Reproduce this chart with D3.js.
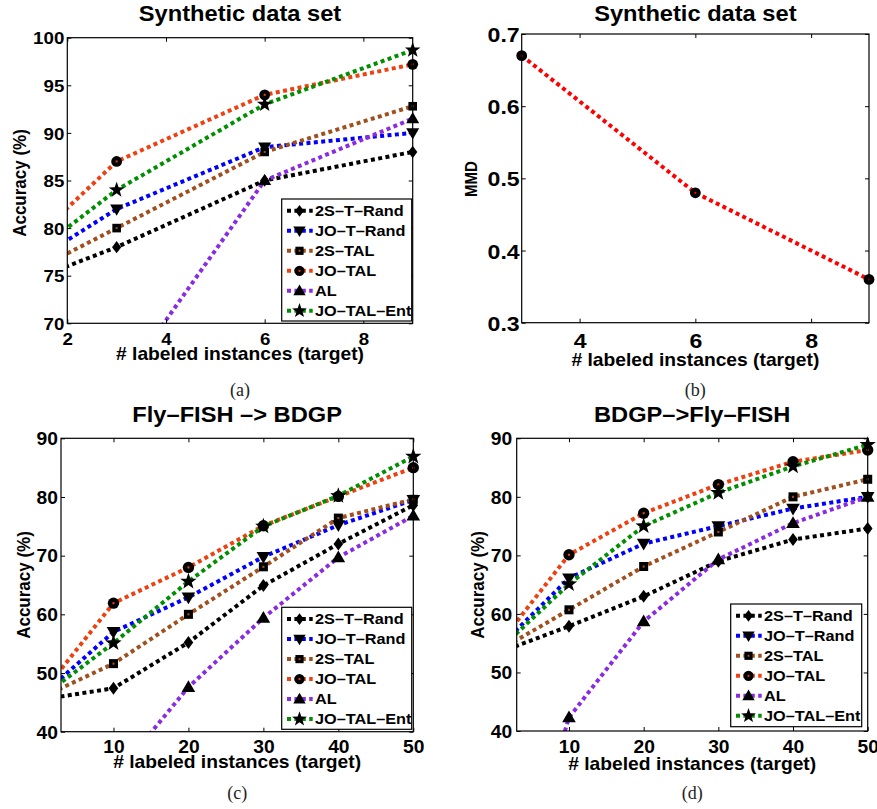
<!DOCTYPE html>
<html>
<head>
<meta charset="utf-8">
<script src="https://cdn.jsdelivr.net/npm/d3@7"></script>
<style>
  html, body { margin: 0; padding: 0; background: #fff; }
  svg { display: block; }
</style>
</head>
<body>
<svg id="chart" width="877" height="809"></svg>
<script>
// ---------------- DATA ----------------
const seriesNames = ["2S–T–Rand", "JO–T–Rand", "2S–TAL", "JO–TAL", "AL", "JO–TAL–Ent"];

// (a) Synthetic data set – accuracy (%)
const xSynthetic = [0, 3, 6, 9];
const accSynthetic = [
  [72.0, 78.0, 85.0, 88.0],   // 2S-T-Rand
  [72.2, 82.0, 88.5, 90.0],   // JO-T-Rand
  [72.0, 80.0, 88.0, 92.8],   // 2S-TAL
  [72.3, 87.0, 94.0, 97.2],   // JO-TAL
  [0,    63.0, 85.0, 91.5],   // AL
  [72.1, 84.0, 93.0, 98.7]    // JO-TAL-Ent
];
const xTicksA = [2, 4, 6, 8];
const yTicksA = [70, 75, 80, 85, 90, 95, 100];

// (b) Synthetic data set – MMD
const xMMD = [3, 6, 9];
const mmdSynthetic = [0.67, 0.48, 0.36];
const xTicksB = [4, 6, 8];
const yTicksB = [0.3, 0.4, 0.5, 0.6, 0.7];

// (c) Fly-FISH -> BDGP
const xReal = [0, 10, 20, 30, 40, 50];
const accFlyToBdgp = [
  [45.4, 47.4, 55.2, 64.9, 72.0, 78.6],
  [45.7, 57.0, 62.9, 69.8, 75.2, 79.5],
  [45.6, 51.6, 60.0, 68.1, 76.4, 79.6],
  [45.8, 61.9, 68.0, 75.1, 80.1, 85.0],
  [0,    32.1, 47.6, 59.4, 69.7, 76.8],
  [45.5, 55.1, 65.6, 75.0, 80.2, 86.9]
];
// (d) BDGP -> Fly-FISH
const accBdgpToFly = [
  [53.1, 57.9, 63.0, 69.0, 72.7, 74.6],
  [53.5, 66.1, 72.0, 75.0, 78.0, 80.0],
  [53.3, 60.7, 68.1, 74.0, 80.0, 83.0],
  [53.8, 70.1, 77.2, 82.1, 86.0, 88.0],
  [0,    42.3, 58.7, 69.3, 75.5, 80.0],
  [53.1, 65.1, 75.0, 80.7, 85.2, 88.9]
];
const xTicksReal = [10, 20, 30, 40, 50];
const yTicksReal = [40, 50, 60, 70, 80, 90];

// ---------------- STYLE ----------------
const colors = ["#000000", "#0000ff", "#a0501e", "#ee4010", "#8a2be2", "#008f00"];
const shapes = ["diamond", "down", "square", "circle", "up", "star"];
const SANS = "'Liberation Sans', Arial, Helvetica, sans-serif";
const STRETCH = 1.1;

const svg = d3.select("#chart");

function stext(g, x, y, str, size, anchor, rotate, opts = {}) {
  const t = g.append("text")
    .attr("transform", `translate(${x},${y}) scale(${STRETCH},1)` + (rotate ? " rotate(-90)" : ""))
    .attr("font-family", opts.family || SANS)
    .attr("font-weight", opts.weight || "bold")
    .attr("font-size", size)
    .attr("text-anchor", anchor)
    .attr("fill", opts.fill || "#000")
    .text(str);
  if (opts.dy) t.attr("dy", opts.dy);
  return t;
}

function starPath(R, r) {
  let p = "";
  for (let i = 0; i < 10; i++) {
    const a = -Math.PI / 2 + i * Math.PI / 5;
    const rad = i % 2 === 0 ? R : r;
    p += (i === 0 ? "M" : "L") + (rad * Math.cos(a)).toFixed(2) + "," + (rad * Math.sin(a)).toFixed(2);
  }
  return p + "Z";
}

function drawMarker(g, shape, cx, cy, color, scale = 1) {
  const m = g.append("g").attr("transform", `translate(${cx},${cy}) scale(${scale})`);
  switch (shape) {
    case "diamond":
      m.append("path").attr("d", "M0,-6.2L4.6,0L0,6.2L-4.6,0Z").attr("fill", "#000");
      break;
    case "down":
      m.append("path").attr("d", "M-6.5,-4.6L6.5,-4.6L0,6.6Z").attr("fill", "#000");
      break;
    case "up":
      m.append("path").attr("d", "M-6.5,4.6L6.5,4.6L0,-6.6Z").attr("fill", "#000");
      break;
    case "square":
      m.append("rect").attr("x", -4.3).attr("y", -4.3).attr("width", 8.6).attr("height", 8.6).attr("fill", "#000");
      m.append("rect").attr("x", -1).attr("y", -1).attr("width", 2).attr("height", 2).attr("fill", color);
      break;
    case "circle":
      m.append("circle").attr("r", 5.4).attr("fill", "#000");
      m.append("rect").attr("x", -1).attr("y", -1).attr("width", 2).attr("height", 2).attr("fill", color);
      break;
    case "star":
      m.append("path").attr("d", starPath(8.2, 3.3)).attr("fill", "#000");
      break;
  }
}

let clipId = 0;
function drawPanel(cfg) {
  const [L, T, R, B] = cfg.box;
  const g = svg.append("g");
  const x = d3.scaleLinear().domain(cfg.xDomain).range([L, R]);
  const y = d3.scaleLinear().domain(cfg.yDomain).range([B, T]);

  // white plot area
  g.append("rect").attr("x", L).attr("y", T).attr("width", R - L).attr("height", B - T).attr("fill", "#fff");

  const id = "clip" + (clipId++);
  g.append("clipPath").attr("id", id).append("rect")
    .attr("x", L).attr("y", T).attr("width", R - L).attr("height", B - T);

  // series
  cfg.series.forEach((vals, i) => {
    const pts = vals.map((v, j) => [cfg.xs[j], v]).filter(d => d[1] !== null);
    const line = d3.line().x(d => x(d[0])).y(d => y(d[1]));
    g.append("path").attr("d", line(pts))
      .attr("clip-path", `url(#${id})`)
      .attr("fill", "none")
      .attr("stroke", cfg.colors[i])
      .attr("stroke-width", 4)
      .attr("stroke-dasharray", "4,3.4");
    pts.forEach(d => {
      if (d[0] >= cfg.xDomain[0] - 1e-9 && d[0] <= cfg.xDomain[1] + 1e-9 &&
          d[1] >= cfg.yDomain[0] && d[1] <= cfg.yDomain[1]) {
        drawMarker(g, cfg.shapes[i], x(d[0]), y(d[1]), cfg.colors[i], cfg.markerScale || 1);
      }
    });
  });

  // axes (ticks inward on all four sides)
  const fs = cfg.tickFont;
  const ax = g.append("g").attr("transform", `translate(0,${B})`)
    .call(d3.axisBottom(x).tickValues(cfg.xTicks).tickSizeInner(-4).tickSizeOuter(0).tickPadding(0).tickFormat(d3.format("")));
  ax.selectAll("text").remove();
  ax.selectAll(".tick").each(function (d) {
    stext(d3.select(this), 0, cfg.xTickDy, String(d), fs, "middle", false);
  });
  const ay = g.append("g").attr("transform", `translate(${L},0)`)
    .call(d3.axisLeft(y).tickValues(cfg.yTicks).tickSizeInner(-4).tickSizeOuter(0).tickFormat(cfg.yFormat));
  ay.selectAll("text").remove();
  ay.selectAll(".tick").each(function (d) {
    stext(d3.select(this), -cfg.yTickGap, 0, cfg.yFormat(d), fs, "end", false, { dy: "0.36em" });
  });
  g.append("g").attr("transform", `translate(0,${T})`)
    .call(d3.axisTop(x).tickValues(cfg.xTicks).tickSizeInner(-4).tickSizeOuter(0).tickFormat(""));
  g.append("g").attr("transform", `translate(${R},0)`)
    .call(d3.axisRight(y).tickValues(cfg.yTicks).tickSizeInner(-4).tickSizeOuter(0).tickFormat(""));
  g.selectAll(".domain").remove();
  g.selectAll(".tick line").attr("stroke", "#000").attr("stroke-width", 1);

  g.append("rect").attr("x", L).attr("y", T).attr("width", R - L).attr("height", B - T)
    .attr("fill", "none").attr("stroke", "#000").attr("stroke-width", 1.2);

  // labels
  stext(g, (L + R) / 2, cfg.titleY, cfg.title, cfg.titleFont, "middle", false);
  stext(g, (L + R) / 2, cfg.xLabelY, "# labeled instances (target)", 17.5, "middle", false);
  stext(g, cfg.yLabelX, cfg.yLabelY, cfg.yLabel, cfg.yLabelFont, "middle", true);
  g.append("text").attr("x", (L + R) / 2).attr("y", cfg.captionY)
    .attr("font-family", "'Liberation Serif', 'DejaVu Serif', serif")
    .attr("font-size", 18).attr("text-anchor", "middle").attr("fill", "#222")
    .text(cfg.caption);

  // legend
  if (cfg.legend) {
    const [lx0, ly0, lx1, ly1] = cfg.legend;
    const lg = g.append("g");
    lg.append("rect").attr("x", lx0).attr("y", ly0).attr("width", lx1 - lx0).attr("height", ly1 - ly0)
      .attr("fill", "#fff").attr("stroke", "#000").attr("stroke-width", 1.2);
    seriesNames.forEach((name, i) => {
      const ry = ly0 + 11.8 + i * 20;
      lg.append("line").attr("x1", lx0 + 5.3).attr("x2", lx0 + 31).attr("y1", ry).attr("y2", ry)
        .attr("stroke", cfg.colors[i]).attr("stroke-width", 4).attr("stroke-dasharray", "4,3.4");
      drawMarker(lg, cfg.shapes[i], lx0 + 17.8, ry, cfg.colors[i], 0.95);
      stext(lg, lx0 + 33.3, ry, name, 14.8, "start", false, { dy: "0.36em" });
    });
  }
}

// (a)
drawPanel({
  box: [67.3, 37.7, 412.7, 323.3], xDomain: [2, 9], yDomain: [70, 100],
  xs: xSynthetic, series: accSynthetic, colors: colors, shapes: shapes,
  xTicks: xTicksA, yTicks: yTicksA, yFormat: d3.format(""), tickFont: 17, xTickDy: 21.7, yTickGap: 3,
  title: "Synthetic data set", titleY: 21, titleFont: 21.5,
  xLabelY: 360, yLabel: "Accuracy (%)", yLabelX: 25.5, yLabelY: 183, yLabelFont: 17,
  caption: "(a)", captionY: 396, legend: [281.7, 199, 411.7, 321]
});

// (b)
drawPanel({
  box: [521.7, 34, 869, 322.7], xDomain: [3, 9], yDomain: [0.3, 0.7],
  xs: xMMD, series: [mmdSynthetic], colors: ["#ff0000"], shapes: ["circle"],
  xTicks: xTicksB, yTicks: yTicksB, yFormat: d3.format(".1f"), tickFont: 21, xTickDy: 25, yTickGap: 2,
  title: "Synthetic data set", titleY: 21, titleFont: 21.5,
  xLabelY: 365.5, yLabel: "MMD", yLabelX: 476.5, yLabelY: 179, yLabelFont: 15,
  caption: "(b)", captionY: 396
});

// (c)
drawPanel({
  box: [61, 438.3, 413.3, 731.7], xDomain: [3, 50], yDomain: [40, 90],
  xs: xReal, series: accFlyToBdgp, colors: colors, shapes: shapes, markerScale: 1.05,
  xTicks: xTicksReal, yTicks: yTicksReal, yFormat: d3.format(""), tickFont: 17.5, xTickDy: 21, yTickGap: 3,
  title: "Fly–FISH –> BDGP", titleY: 421.5, titleFont: 21.5,
  xLabelY: 768, yLabel: "Accuracy (%)", yLabelX: 30, yLabelY: 585, yLabelFont: 17,
  caption: "(c)", captionY: 799, legend: [281.7, 607.3, 411.7, 729.3]
});

// (d)
drawPanel({
  box: [516.7, 438.3, 867.7, 731], xDomain: [3, 50], yDomain: [40, 90],
  xs: xReal, series: accBdgpToFly, colors: colors, shapes: shapes, markerScale: 1.05,
  xTicks: xTicksReal, yTicks: yTicksReal, yFormat: d3.format(""), tickFont: 17.5, xTickDy: 21.5, yTickGap: 4.5,
  title: "BDGP–>Fly–FISH", titleY: 421.5, titleFont: 21.5,
  xLabelY: 770, yLabel: "Accuracy (%)", yLabelX: 484, yLabelY: 585, yLabelFont: 17,
  caption: "(d)", captionY: 799, legend: [730.7, 604, 861.7, 726.7]
});
</script>
</body>
</html>
